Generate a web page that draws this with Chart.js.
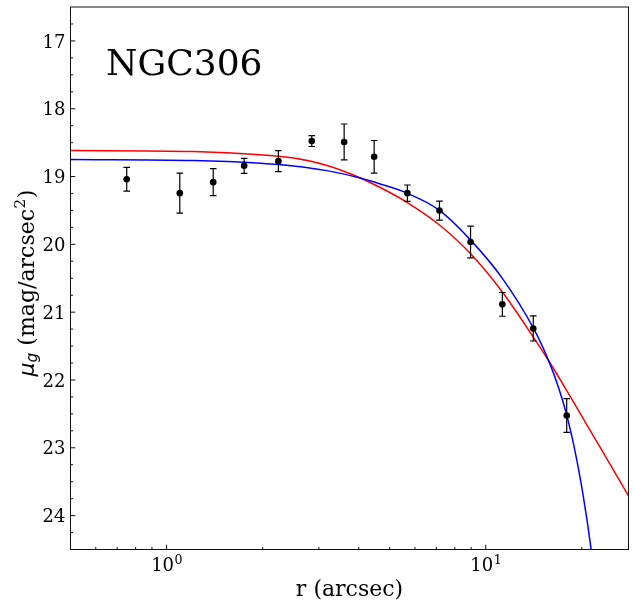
<!DOCTYPE html>
<html><head><meta charset="utf-8">
<script src="https://cdn.jsdelivr.net/npm/chart.js@4/dist/chart.umd.min.js"></script>
<style>html,body{margin:0;padding:0;background:#fff;overflow:hidden}#wrap{width:634px;height:608px}</style>
</head><body>
<div id="wrap"><canvas id="c" width="634" height="608"></canvas></div>
<script>
// ---- data ----
const clusterName = 'NGC306';
const radius = [0.75, 1.10, 1.40, 1.75, 2.24, 2.85, 3.60, 4.47, 5.68, 7.16, 8.96, 11.27, 14.09, 17.93];
const mu     = [19.04, 19.245, 19.083, 18.842, 18.773, 18.477, 18.49, 18.709, 19.245, 19.502, 19.965, 20.885, 21.24, 22.524];
const muErr  = [0.175, 0.295, 0.2, 0.11, 0.155, 0.08, 0.265, 0.24, 0.12, 0.14, 0.235, 0.175, 0.185, 0.25];

const redR  = [0.5, 1.215, 1.965, 2.50, 3.18, 3.85, 4.67, 5.68, 7.16, 8.95, 11.27, 14.09, 15.90, 18.36, 22.80, 28.0];
const redMu = [18.616, 18.631, 18.679, 18.728, 18.836, 18.978, 19.162, 19.384, 19.715, 20.136, 20.703, 21.368, 21.750, 22.238, 22.991, 23.711];

const blueR  = [0.5, 1.215, 1.965, 2.50, 3.18, 4.04, 4.67, 5.68, 7.16, 8.95, 11.27, 14.09, 15.79, 16.88, 17.84, 18.81, 19.50, 20.21, 20.80, 21.32, 21.83];
const blueMu = [18.749, 18.764, 18.804, 18.843, 18.913, 19.021, 19.109, 19.247, 19.498, 19.934, 20.501, 21.233, 21.733, 22.103, 22.479, 22.932, 23.301, 23.715, 24.093, 24.455, 24.835];

const yTicks = [17, 18, 19, 20, 21, 22, 23, 24];
const yMinorStep = 0.25;
const xTickValues = [1, 10];
const xTickBase = ['10', '10'];
const xTickExp = ['0', '1'];
const xMinorTicks = [0.6, 0.7, 0.8, 0.9, 2, 3, 4, 5, 6, 7, 8, 9, 20];
const xLabel = 'r (arcsec)';
const yLabelParts = {sym: 'μ', sub: 'g', body: ' (mag/arcsec', sup: '2', end: ')'};
const xRange = [0.5, 28];
const yRange = [16.5, 24.5];

const SERIF = '"DejaVu Serif", serif';
const SANS = '"DejaVu Sans", sans-serif';

const errorBars = {
  id: 'errorBars',
  afterDatasetsDraw(chart) {
    const {ctx, scales: {x, y}} = chart;
    ctx.save();
    ctx.strokeStyle = '#000';
    ctx.lineWidth = 1.2;
    radius.forEach((r, i) => {
      const px = x.getPixelForValue(r);
      const y1 = y.getPixelForValue(mu[i] - muErr[i]);
      const y2 = y.getPixelForValue(mu[i] + muErr[i]);
      ctx.beginPath();
      ctx.moveTo(px, y1); ctx.lineTo(px, y2);
      ctx.moveTo(px - 3.3, y1); ctx.lineTo(px + 3.3, y1);
      ctx.moveTo(px - 3.3, y2); ctx.lineTo(px + 3.3, y2);
      ctx.stroke();
    });
    ctx.restore();
  }
};

const mplAxes = {
  id: 'mplAxes',
  afterDraw(chart) {
    const {ctx, chartArea: a, scales: {x, y}} = chart;
    ctx.save();
    ctx.strokeStyle = '#111';
    ctx.lineWidth = 1;
    ctx.strokeRect(a.left, a.top, a.right - a.left, a.bottom - a.top);
    ctx.beginPath();
    xTickValues.forEach(v => { const p = x.getPixelForValue(v); ctx.moveTo(p, a.bottom); ctx.lineTo(p, a.bottom - 4.8); });
    xMinorTicks.forEach(v => { const p = x.getPixelForValue(v); ctx.moveTo(p, a.bottom); ctx.lineTo(p, a.bottom - 2.6); });
    yTicks.forEach(v => { const p = y.getPixelForValue(v); ctx.moveTo(a.left, p); ctx.lineTo(a.left + 4.8, p); });
    for (let v = yRange[0] + yMinorStep; v < yRange[1]; v += yMinorStep) {
      if (Math.abs(v - Math.round(v)) < 1e-6) continue;
      const p = y.getPixelForValue(v); ctx.moveTo(a.left, p); ctx.lineTo(a.left + 2.6, p);
    }
    ctx.stroke();

    ctx.fillStyle = '#000';
    ctx.font = '18px ' + SERIF;
    ctx.textAlign = 'right';
    ctx.textBaseline = 'alphabetic';
    yTicks.forEach(v => { const p = y.getPixelForValue(v); ctx.fillText(String(v), a.left - 5, p + 6.6); });
    ctx.textAlign = 'left';
    xTickValues.forEach((v, i) => {
      const p = x.getPixelForValue(v);
      ctx.font = '18px ' + SERIF;
      const w1 = ctx.measureText(xTickBase[i]).width;
      ctx.font = '12.6px ' + SERIF;
      const w2 = ctx.measureText(xTickExp[i]).width;
      const start = p - (w1 + w2) / 2;
      ctx.font = '18px ' + SERIF;
      ctx.fillText(xTickBase[i], start, 570.5);
      ctx.font = '12.6px ' + SERIF;
      ctx.fillText(xTickExp[i], start + w1 + 0.5, 563.5);
    });
    ctx.font = '22px ' + SERIF;
    ctx.textAlign = 'center';
    ctx.fillText(xLabel, (a.left + a.right) / 2, 596);
    ctx.save();
    ctx.translate(33.5, 283);
    ctx.rotate(-Math.PI / 2);
    ctx.textAlign = 'left';
    const fMain = '22px ' + SERIF, fSym = 'italic 22px ' + SANS, fSub = 'italic 15.4px ' + SANS, fSup = '15.4px ' + SERIF;
    ctx.font = fSym; const wSym = ctx.measureText(yLabelParts.sym).width;
    ctx.font = fSub; const wSub = ctx.measureText(yLabelParts.sub).width;
    ctx.font = fMain; const wBody = ctx.measureText(yLabelParts.body).width;
    ctx.font = fSup; const wSup = ctx.measureText(yLabelParts.sup).width;
    ctx.font = fMain; const wEnd = ctx.measureText(yLabelParts.end).width;
    const total = wSym + wSub + wBody + wSup + wEnd + 1;
    let cx = -total / 2;
    ctx.font = fSym; ctx.fillText(yLabelParts.sym, cx, 0); cx += wSym;
    ctx.font = fSub; ctx.fillText(yLabelParts.sub, cx, 3); cx += wSub;
    ctx.font = fMain; ctx.fillText(yLabelParts.body, cx, 0); cx += wBody;
    ctx.font = fSup; ctx.fillText(yLabelParts.sup, cx + 0.5, -9); cx += wSup + 1;
    ctx.font = fMain; ctx.fillText(yLabelParts.end, cx, 0);
    ctx.restore();
    ctx.font = '36px ' + SERIF;
    ctx.textAlign = 'left';
    ctx.fillText(clusterName, 106, 75);
    ctx.restore();
  }
};

new Chart(document.getElementById('c'), {
  type: 'scatter',
  data: {
    datasets: [
      {
        label: 'data',
        data: radius.map((r, i) => ({x: r, y: mu[i]})),
        pointRadius: 3.3, pointHoverRadius: 3.3,
        backgroundColor: '#000', borderWidth: 0, order: 0
      },
      {
        label: 'blue fit',
        data: blueR.map((r, i) => ({x: r, y: blueMu[i]})),
        showLine: true, pointRadius: 0, borderColor: '#0000ff', borderWidth: 1.5,
        cubicInterpolationMode: 'monotone', order: 1
      },
      {
        label: 'red fit',
        data: redR.map((r, i) => ({x: r, y: redMu[i]})),
        showLine: true, pointRadius: 0, borderColor: '#ff0000', borderWidth: 1.5,
        cubicInterpolationMode: 'monotone', order: 2
      }
    ]
  },
  options: {
    responsive: false,
    animation: false,
    devicePixelRatio: 1,
    layout: {padding: {left: 70.5, right: 5.5, top: 7, bottom: 58.5}},
    plugins: {legend: {display: false}, tooltip: {enabled: false}},
    scales: {
      x: {type: 'logarithmic', min: xRange[0], max: xRange[1], display: false},
      y: {type: 'linear', reverse: true, min: yRange[0], max: yRange[1], display: false}
    }
  },
  plugins: [errorBars, mplAxes]
});
</script>
</body></html>
